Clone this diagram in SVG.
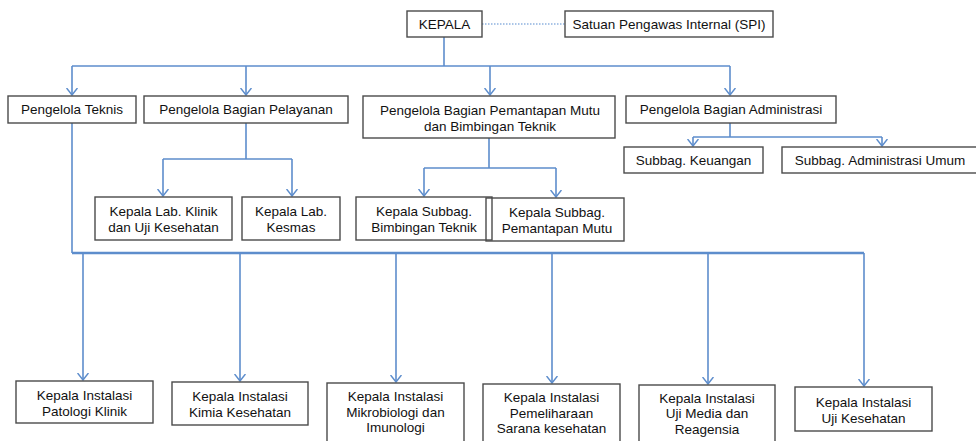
<svg xmlns="http://www.w3.org/2000/svg" width="976" height="441" viewBox="0 0 976 441">
<style>
.box{fill:#fff;stroke:#4a4a4a;stroke-width:1.4}
.open{fill:none}
.t{font-family:"Liberation Sans",Arial,sans-serif;font-size:13.5px;fill:#111;text-anchor:middle}
.c{fill:none;stroke:#5d8dcc;stroke-width:1.6}
.thick{stroke-width:2.6}
.dot{fill:none;stroke:#8fb2e0;stroke-width:1.3;stroke-dasharray:1.5 1.5}
</style>
<defs>
<marker id="arr" viewBox="0 0 8 12" refX="7.5" refY="6" markerWidth="8" markerHeight="12" markerUnits="userSpaceOnUse" orient="auto">
<path d="M0.5,0.5 L7.5,6 L0.5,11.5" fill="none" stroke="#5d8dcc" stroke-width="1.5"/>
</marker>
</defs>
<g id="connectors">
<path class="dot" d="M482,24 H565"/>
<path class="c" d="M444,37 V66"/>
<path class="c" d="M72,66 H730"/>
<path class="c" marker-end="url(#arr)" d="M72,66 V95"/>
<path class="c" marker-end="url(#arr)" d="M246,66 V95"/>
<path class="c" marker-end="url(#arr)" d="M490,66 V95"/>
<path class="c" marker-end="url(#arr)" d="M730,66 V95"/>
<path class="c" d="M246,123 V159 M163,159 H292"/>
<path class="c" marker-end="url(#arr)" d="M163,159 V196"/>
<path class="c" marker-end="url(#arr)" d="M292,159 V196"/>
<path class="c" d="M489,138 V168 M424,168 H556"/>
<path class="c" marker-end="url(#arr)" d="M424,168 V196"/>
<path class="c" marker-end="url(#arr)" d="M556,168 V197"/>
<path class="c" d="M730,123 V137 M693,137 H882"/>
<path class="c" marker-end="url(#arr)" d="M693,137 V146"/>
<path class="c" marker-end="url(#arr)" d="M882,137 V146"/>
<path class="c" d="M72,123 V253"/>
<path class="c thick" d="M72,253 H864"/>
<path class="c" marker-end="url(#arr)" d="M83,253 V380"/>
<path class="c" marker-end="url(#arr)" d="M240,253 V381"/>
<path class="c" marker-end="url(#arr)" d="M396,253 V382"/>
<path class="c" marker-end="url(#arr)" d="M552,253 V383"/>
<path class="c" marker-end="url(#arr)" d="M708,253 V384"/>
<path class="c" marker-end="url(#arr)" d="M864,253 V386"/>
</g>
<g id="kepala"><rect class="box" x="407" y="11" width="75" height="26"/><text class="t" x="444.5" y="29">KEPALA</text></g>
<g id="spi"><rect class="box" x="565" y="11" width="208" height="26"/><text class="t" x="669" y="29">Satuan Pengawas Internal (SPI)</text></g>
<g id="pengelola-teknis"><rect class="box" x="8" y="96" width="128" height="27"/><text class="t" x="72" y="114">Pengelola Teknis</text></g>
<g id="pengelola-pelayanan"><rect class="box" x="144" y="96" width="204" height="27"/><text class="t" x="246" y="114">Pengelola Bagian Pelayanan</text></g>
<g id="pengelola-mutu"><rect class="box" x="363" y="96" width="252" height="42"/><text class="t" x="490" y="115">Pengelola Bagian Pemantapan Mutu</text><text class="t" x="490" y="131">dan Bimbingan Teknik</text></g>
<g id="pengelola-administrasi"><rect class="box" x="626" y="96" width="210" height="27"/><text class="t" x="731" y="114">Pengelola Bagian Administrasi</text></g>
<g id="subbag-keuangan"><rect class="box" x="624" y="147" width="139" height="26"/><text class="t" x="693.5" y="165">Subbag. Keuangan</text></g>
<g id="subbag-umum"><rect class="box" x="782" y="147" width="200" height="26"/><text class="t" x="880" y="165">Subbag. Administrasi Umum</text></g>
<g id="lab-klinik"><rect class="box" x="95" y="197" width="137" height="43"/><text class="t" x="163.5" y="216">Kepala Lab. Klinik</text><text class="t" x="163.5" y="232">dan Uji Kesehatan</text></g>
<g id="lab-kesmas"><rect class="box" x="242" y="197" width="98" height="43"/><text class="t" x="291" y="216">Kepala Lab.</text><text class="t" x="291" y="232">Kesmas</text></g>
<g id="subbag-bimbingan"><rect class="box" x="356" y="197" width="136" height="43"/><text class="t" x="424" y="216">Kepala Subbag.</text><text class="t" x="424" y="232">Bimbingan Teknik</text></g>
<g id="subbag-pemantapan"><rect class="box open" x="486" y="198" width="138" height="43"/><text class="t" x="557" y="217">Kepala Subbag.</text><text class="t" x="557" y="233">Pemantapan Mutu</text></g>
<g id="instalasi-patologi"><rect class="box" x="16" y="381" width="137" height="42"/><text class="t" x="84.5" y="400">Kepala Instalasi</text><text class="t" x="84.5" y="416">Patologi Klinik</text></g>
<g id="instalasi-kimia"><rect class="box" x="172" y="382" width="136" height="43"/><text class="t" x="240" y="401">Kepala Instalasi</text><text class="t" x="240" y="417">Kimia Kesehatan</text></g>
<g id="instalasi-mikrobiologi"><rect class="box" x="327" y="383" width="137" height="62"/><text class="t" x="395.5" y="401">Kepala Instalasi</text><text class="t" x="395.5" y="417">Mikrobiologi dan</text><text class="t" x="395.5" y="432">Imunologi</text></g>
<g id="instalasi-pemeliharaan"><rect class="box" x="483" y="384" width="137" height="62"/><text class="t" x="551.5" y="402">Kepala Instalasi</text><text class="t" x="551.5" y="418">Pemeliharaan</text><text class="t" x="551.5" y="433">Sarana kesehatan</text></g>
<g id="instalasi-media"><rect class="box" x="639" y="385" width="136" height="62"/><text class="t" x="707" y="403">Kepala Instalasi</text><text class="t" x="707" y="418">Uji Media dan</text><text class="t" x="707" y="434">Reagensia</text></g>
<g id="instalasi-uji"><rect class="box" x="795" y="387" width="137" height="44"/><text class="t" x="863.5" y="407">Kepala Instalasi</text><text class="t" x="863.5" y="423">Uji Kesehatan</text></g>
</svg>
